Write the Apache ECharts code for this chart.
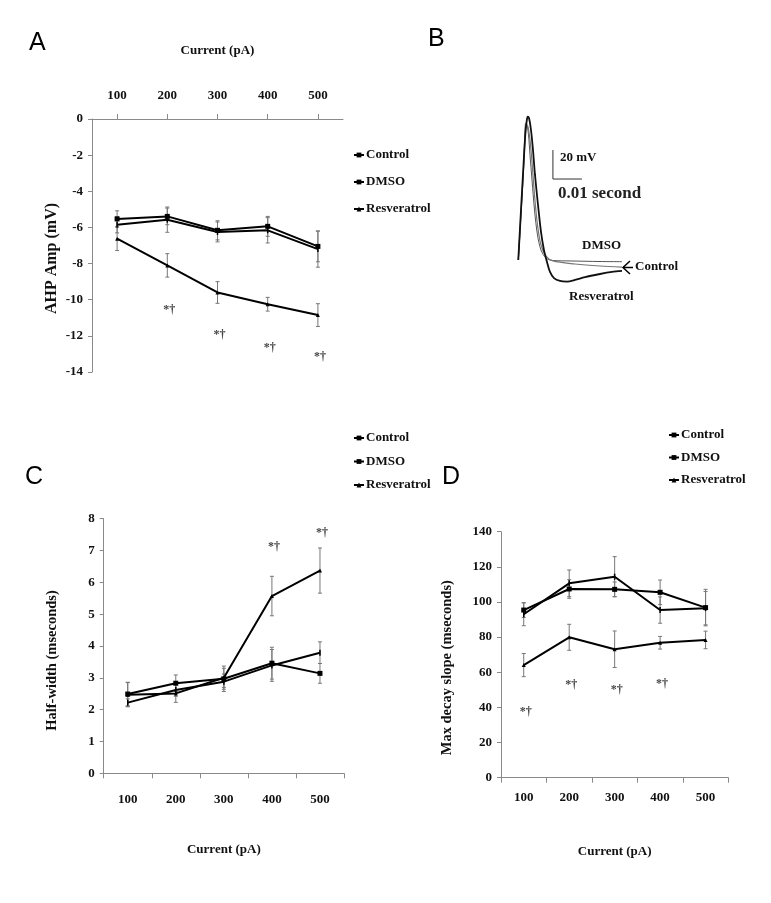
<!DOCTYPE html>
<html>
<head>
<meta charset="utf-8">
<script src="https://cdn.jsdelivr.net/npm/echarts@6/dist/echarts.min.js"></script>
<style>html,body{margin:0;padding:0;background:#fff}#chart{width:771px;height:903px}</style>
</head>
<body>
<div id="chart"></div>
<script>
// ---------- data ----------
const categories = ['100', '200', '300', '400', '500'];
const seriesNames = ['Control', 'DMSO', 'Resveratrol'];

// Panel A: AHP amplitude (mV)
const ahpControl = [-5.85, -5.57, -6.25, -6.16, -7.2];
const ahpControlErr = [0.45, 0.7, 0.55, 0.7, 1.0];
const ahpDmso = [-5.53, -5.39, -6.16, -5.94, -7.05];
const ahpDmsoErr = [0.45, 0.46, 0.53, 0.55, 0.85];
const ahpRes = [-6.62, -8.1, -9.6, -10.25, -10.85];
const ahpResErr = [0.66, 0.65, 0.6, 0.38, 0.63];
const ahpSig = [null, -10.57, -11.95, -12.67, -13.17];
const ahpTicks = [-14, 0, 2];

// Panel C: half-width (ms)
const hwControl = [2.22, 2.62, 2.88, 3.39, 3.79];
const hwControlErr = [0.12, 0.2, 0.24, 0.5, 0.34];
const hwDmso = [2.49, 2.83, 2.97, 3.46, 3.14];
const hwDmsoErr = [0.37, 0.26, 0.4, 0.5, 0.31];
const hwRes = [2.47, 2.51, 3.0, 5.57, 6.37];
const hwResErr = [0.38, 0.28, 0.3, 0.62, 0.71];
const hwSig = [null, null, null, 7.12, 7.56];
const hwTicks = [0, 8, 1];

// Panel D: max decay slope
const mdControl = [93.0, 110.6, 114.4, 95.4, 96.5];
const mdControlErr = [6.5, 7.6, 11.4, 7.5, 9.5];
const mdDmso = [95.4, 107.4, 107.2, 105.5, 96.8];
const mdDmsoErr = [4.2, 5.3, 4.2, 7.0, 10.4];
const mdRes = [64.1, 79.9, 73.1, 76.8, 78.4];
const mdResErr = [6.6, 7.4, 10.4, 3.6, 5.0];
const mdSig = [37.6, 52.8, 49.9, 53.2, null];
const mdTicks = [0, 140, 20];

// Panel B: action potential traces [time ms, voltage mV]
const apRes = [[2.86,-63.4],[3.79,-29.0],[4.66,2.1],[5.34,24.8],[5.86,33.8],[6.10,35.4],[6.55,34.5],[7.24,26.2],[7.93,12.4],[8.62,-4.8],[9.66,-25.5],[10.69,-44.1],[11.72,-56.6],[12.76,-64.8],[13.79,-71.7],[15.17,-75.9],[17.24,-77.9],[19.66,-78.3],[22.41,-77.2],[25.86,-75.2],[31.03,-73.1],[35.17,-71.7],[38.62,-71.0]];
const apDmso = [[2.86,-63.4],[3.79,-32.4],[4.66,-1.4],[5.17,26.2],[5.41,30.8],[5.86,29.7],[6.38,22.8],[6.90,9.0],[7.59,-8.3],[8.45,-29.0],[9.48,-46.2],[10.69,-56.6],[12.41,-62.1],[14.83,-63.8],[20.69,-64.1],[31.03,-64.5],[38.62,-64.6]];
const apControl = [[2.86,-63.4],[3.79,-31.0],[4.66,0.0],[5.34,24.1],[5.76,29.7],[6.21,28.3],[6.90,19.3],[7.59,4.1],[8.45,-18.6],[9.48,-39.3],[10.69,-53.1],[12.41,-60.7],[14.83,-64.1],[22.41,-66.2],[31.03,-67.6],[38.62,-68.3]];
const scaleBar = [[14.8, 12.4], [14.8, -7.6], [24.8, -7.6]];

// ---------- styling ----------
const SERIF = '"Liberation Serif", "Times New Roman", serif';
const SANS = '"Liberation Sans", Arial, sans-serif';
const AXC = '#8a8a8a';
const labelStyle = {fontFamily: SERIF, fontWeight: 'bold', fontSize: 13, color: '#111'};
const symbols = {Control: ['rect', [1.5, 6]], DMSO: ['rect', 5], Resveratrol: ['triangle', 4]};

function errData(vals, errs) { return vals.map((v, i) => [i, v - errs[i], v + errs[i]]); }
function errSeries(g, vals, errs) {
  return {
    type: 'custom', xAxisIndex: g, yAxisIndex: g, silent: true, z: 1,
    encode: {x: 0, y: [1, 2]},
    data: errData(vals, errs),
    renderItem: function (params, api) {
      const i = api.value(0);
      const lo = api.coord([i, api.value(1)]);
      const hi = api.coord([i, api.value(2)]);
      const w = 2, st = {stroke: '#777', lineWidth: 1};
      return {type: 'group', children: [
        {type: 'line', shape: {x1: lo[0], y1: lo[1], x2: hi[0], y2: hi[1]}, style: st},
        {type: 'line', shape: {x1: lo[0] - w, y1: lo[1], x2: lo[0] + w, y2: lo[1]}, style: st},
        {type: 'line', shape: {x1: hi[0] - w, y1: hi[1], x2: hi[0] + w, y2: hi[1]}, style: st}
      ]};
    }
  };
}
function sigSeries(g, vals) {
  return {
    type: 'custom', xAxisIndex: g, yAxisIndex: g, silent: true, z: 5,
    encode: {x: 0, y: 1},
    data: vals.map((v, i) => [i, v]).filter(d => d[1] !== null),
    renderItem: function (params, api) {
      const p = api.coord([api.value(0), api.value(1)]);
      return {type: 'text', x: p[0] + 2, y: p[1], style: {text: '*†', fill: '#444', font: 'bold 12px ' + SERIF, align: 'center', verticalAlign: 'middle'}};
    }
  };
}
function lineSeries(g, name, vals) {
  return {
    type: 'line', name: name, xAxisIndex: g, yAxisIndex: g, data: vals, z: 3,
    symbol: symbols[name][0], symbolSize: symbols[name][1], showSymbol: true,
    itemStyle: {color: '#000'}, lineStyle: {color: '#000', width: 2}, animation: false
  };
}
function catAxis(g, opt) {
  return Object.assign({
    gridIndex: g, type: 'category', data: categories, boundaryGap: true,
    axisLine: {show: true, lineStyle: {color: AXC, width: 1}},
    axisTick: {show: true, length: 5, lineStyle: {color: AXC}},
    axisLabel: Object.assign({}, labelStyle),
    nameLocation: 'middle', nameTextStyle: Object.assign({}, labelStyle),
    splitLine: {show: false}
  }, opt);
}
function valAxis(g, ticks, name, gap, size, shift) {
  return {
    gridIndex: g, type: 'value', min: ticks[0], max: ticks[1], interval: ticks[2],
    axisLine: {show: true, lineStyle: {color: AXC, width: 1}},
    axisTick: {show: true, length: 4, lineStyle: {color: AXC}},
    axisLabel: Object.assign({margin: 9}, labelStyle),
    splitLine: {show: false},
    name: name, nameLocation: 'middle', nameRotate: 90, nameGap: gap,
    nameTextStyle: Object.assign({}, labelStyle, {fontSize: size, padding: [0, shift, 0, 0]})
  };
}
function legend(left, top, gap) {
  return {
    left: left, top: top, orient: 'vertical', itemGap: gap, itemWidth: 10, itemHeight: 6,
    padding: 0, selectedMode: false, data: seriesNames,
    textStyle: Object.assign({}, labelStyle, {lineHeight: 14, padding: [0, 0, 0, -3]})
  };
}

const chart = echarts.init(document.getElementById('chart'), null, {renderer: 'canvas'});
const option = {
  backgroundColor: '#fff',
  animation: false,
  grid: [
    {left: 92, top: 119, width: 251, height: 253},
    {left: 103.7, top: 518.7, width: 240.3, height: 254.6},
    {left: 501, top: 531.7, width: 227.3, height: 246},
    {left: 510, top: 110, width: 130.5, height: 179.8}
  ],
  xAxis: [
    catAxis(0, {position: 'top', axisTick: {show: true, alignWithLabel: true, length: 5, lineStyle: {color: AXC}},
      axisLabel: Object.assign({margin: 17}, labelStyle), name: 'Current (pA)', nameGap: 62}),
    catAxis(1, {axisLabel: Object.assign({margin: 20}, labelStyle), name: 'Current (pA)', nameGap: 70}),
    catAxis(2, {axisLabel: Object.assign({margin: 13}, labelStyle), name: 'Current (pA)', nameGap: 67}),
    {gridIndex: 3, type: 'value', min: 0, max: 45, show: false}
  ],
  yAxis: [
    valAxis(0, ahpTicks, 'AHP Amp (mV)', 32, 16, 26),
    valAxis(1, hwTicks, 'Half-width (mseconds)', 44, 14.5, 29),
    valAxis(2, mdTicks, 'Max decay slope (mseconds)', 46, 14.5, 26),
    {gridIndex: 3, type: 'value', min: -84, max: 40, show: false}
  ],
  legend: [legend(353, 148, 13), legend(353, 431, 9.5), legend(668, 428, 8.5)],
  series: [
    errSeries(0, ahpControl, ahpControlErr), errSeries(0, ahpDmso, ahpDmsoErr), errSeries(0, ahpRes, ahpResErr),
    lineSeries(0, 'Control', ahpControl), lineSeries(0, 'DMSO', ahpDmso), lineSeries(0, 'Resveratrol', ahpRes),
    sigSeries(0, ahpSig),
    errSeries(1, hwControl, hwControlErr), errSeries(1, hwDmso, hwDmsoErr), errSeries(1, hwRes, hwResErr),
    lineSeries(1, 'Control', hwControl), lineSeries(1, 'DMSO', hwDmso), lineSeries(1, 'Resveratrol', hwRes),
    sigSeries(1, hwSig),
    errSeries(2, mdControl, mdControlErr), errSeries(2, mdDmso, mdDmsoErr), errSeries(2, mdRes, mdResErr),
    lineSeries(2, 'Control', mdControl), lineSeries(2, 'DMSO', mdDmso), lineSeries(2, 'Resveratrol', mdRes),
    sigSeries(2, mdSig),
    {type: 'line', name: 'trace DMSO', xAxisIndex: 3, yAxisIndex: 3, data: apDmso, showSymbol: false, smooth: 0.3, lineStyle: {color: '#555', width: 1}, silent: true},
    {type: 'line', name: 'trace Control', xAxisIndex: 3, yAxisIndex: 3, data: apControl, showSymbol: false, smooth: 0.3, lineStyle: {color: '#777', width: 1.2}, silent: true},
    {type: 'line', name: 'trace Resveratrol', xAxisIndex: 3, yAxisIndex: 3, data: apRes, showSymbol: false, smooth: 0.3, lineStyle: {color: '#111', width: 1.8}, silent: true},
    {type: 'line', name: 'scale bar', xAxisIndex: 3, yAxisIndex: 3, data: scaleBar, showSymbol: false, lineStyle: {color: '#333', width: 1}, silent: true}
  ],
  graphic: [
    {type: 'text', left: 29, top: 31, style: {text: 'A', font: '25px ' + SANS, fill: '#000'}},
    {type: 'text', left: 428, top: 27, style: {text: 'B', font: '25px ' + SANS, fill: '#000'}},
    {type: 'text', left: 25, top: 465, style: {text: 'C', font: '25px ' + SANS, fill: '#000'}},
    {type: 'text', left: 442, top: 465, style: {text: 'D', font: '25px ' + SANS, fill: '#000'}},
    {type: 'text', left: 560, top: 151, style: {text: '20 mV', font: 'bold 13px ' + SERIF, fill: '#111'}},
    {type: 'text', left: 558, top: 185, style: {text: '0.01 second', font: 'bold 17px ' + SERIF, fill: '#222'}},
    {type: 'text', left: 582, top: 239, style: {text: 'DMSO', font: 'bold 13px ' + SERIF, fill: '#111'}},
    {type: 'text', left: 635, top: 260, style: {text: 'Control', font: 'bold 13px ' + SERIF, fill: '#111'}},
    {type: 'text', left: 569, top: 290, style: {text: 'Resveratrol', font: 'bold 13px ' + SERIF, fill: '#111'}},
    {type: 'polyline', shape: {points: [[630, 261], [623, 267.5], [630, 274]]}, style: {stroke: '#000', lineWidth: 1.5, fill: null}},
    {type: 'line', shape: {x1: 623, y1: 267.5, x2: 633, y2: 267.5}, style: {stroke: '#000', lineWidth: 1.5}}
  ]
};
chart.setOption(option);
</script>
</body>
</html>
